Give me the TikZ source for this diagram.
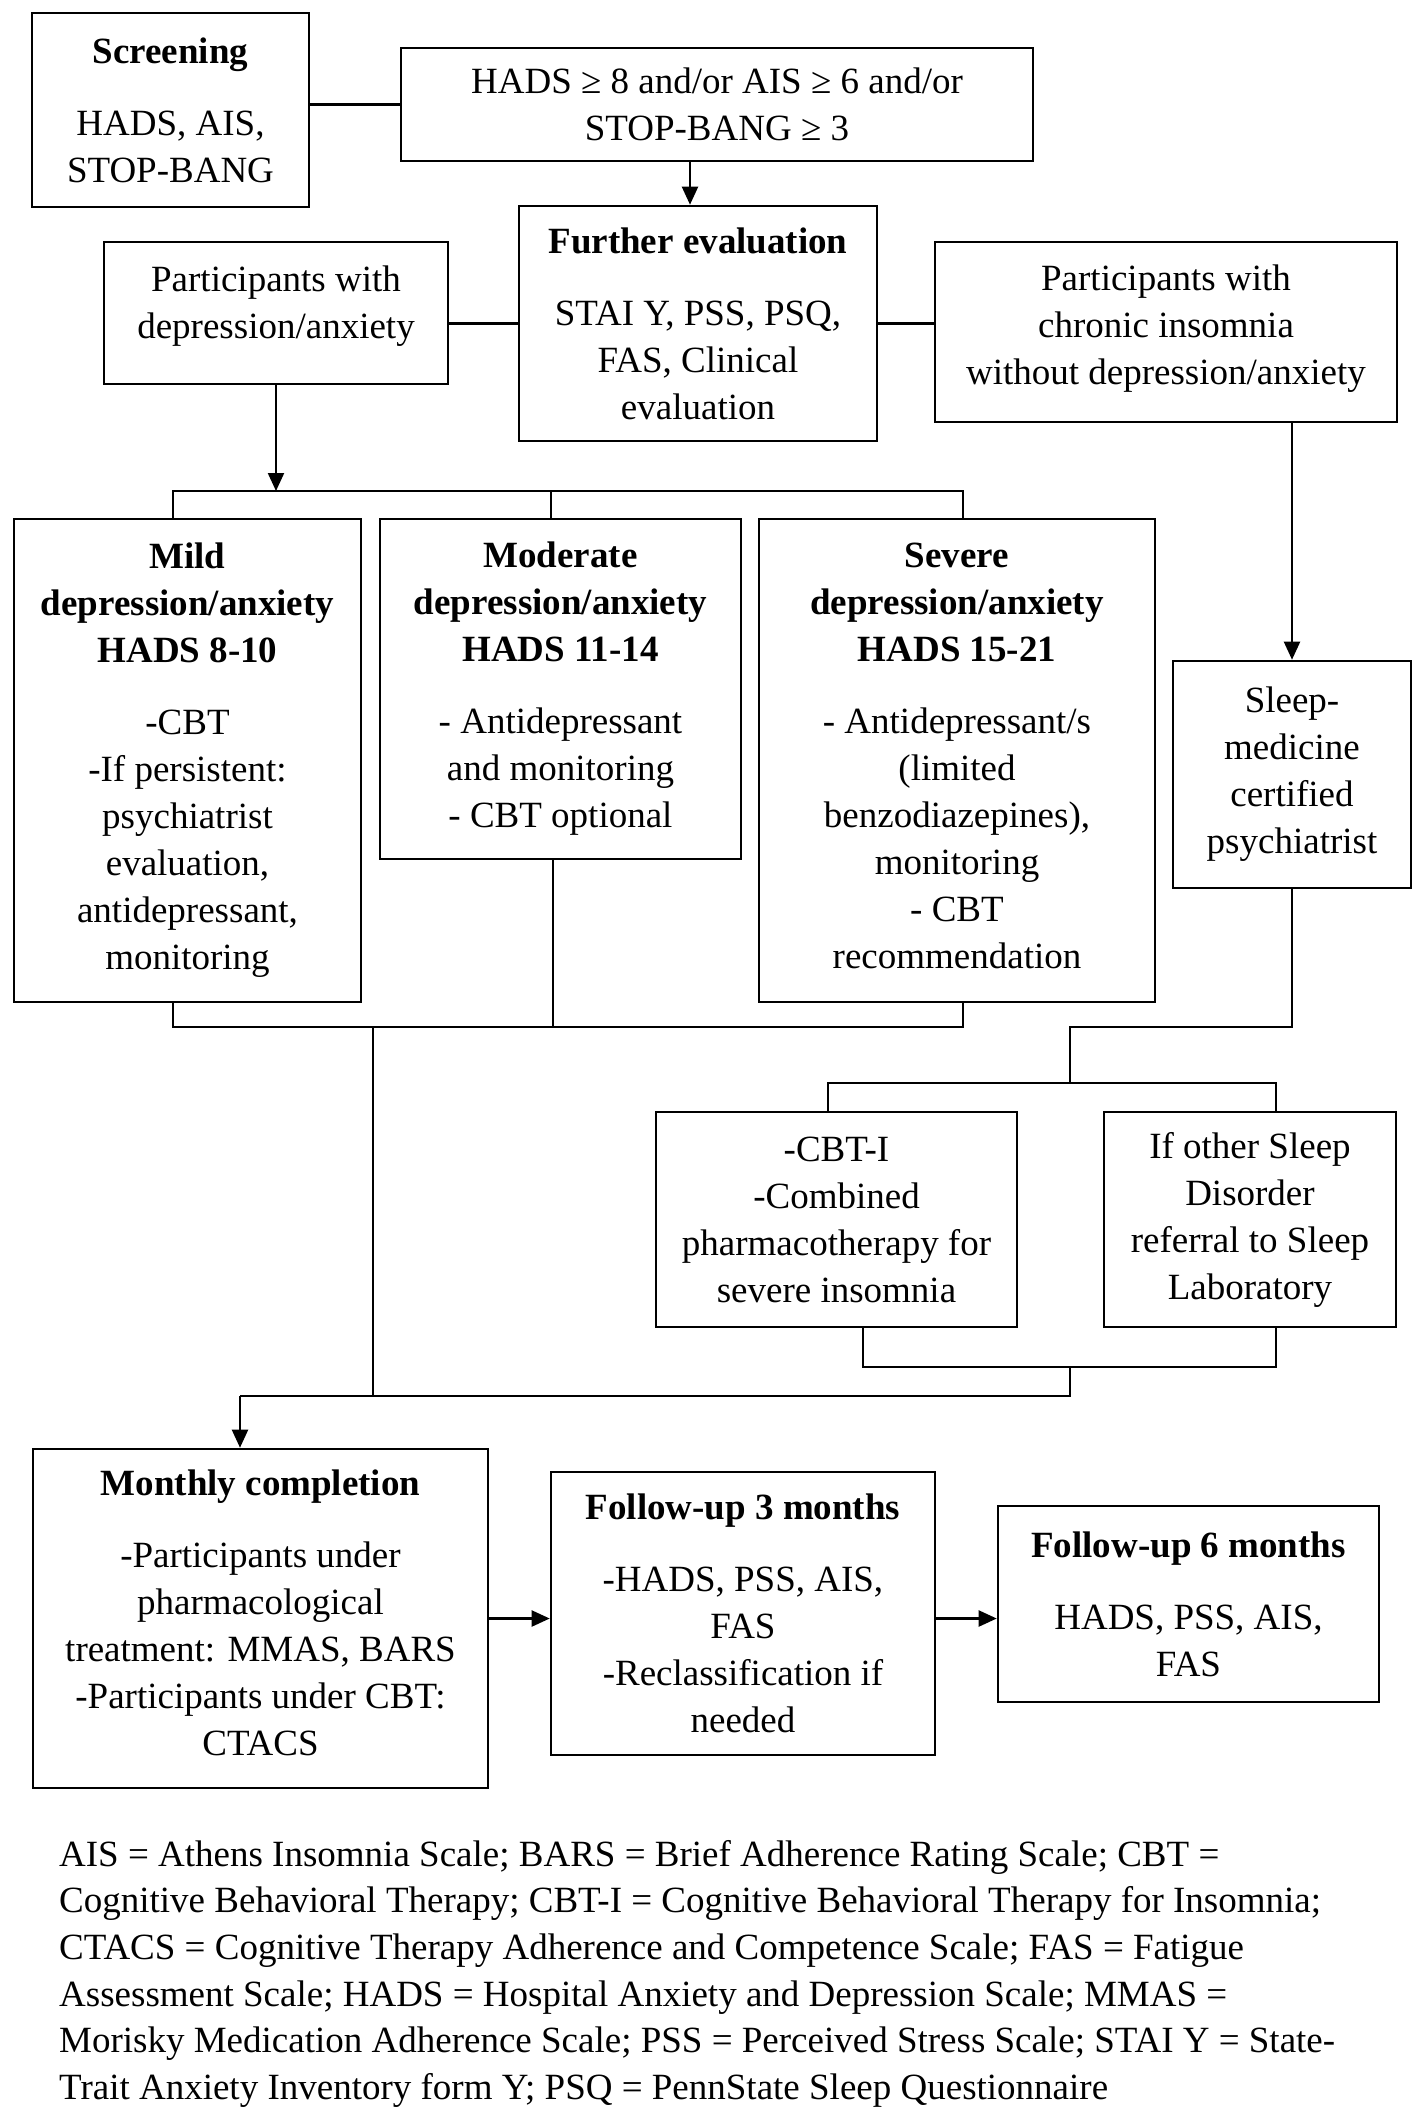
\documentclass[tikz,border=0pt]{standalone}
\usepackage{fontspec}
\setmainfont{Liberation Serif}
\usetikzlibrary{arrows.meta}
\begin{document}
\begin{tikzpicture}[x=1pt,y=-1pt,
  box/.style={draw, line width=2.6pt, align=center, inner sep=0pt,
    font=\fontsize{37}{47}\selectfont},
  conn/.style={line width=2.2pt},
  arr/.style={-{Triangle[length=18pt,width=16pt]}}]
\fill[white] (0,0) rectangle (1417,2123);
\useasboundingbox (0,0) rectangle (1417,2123);

% boxes
\node[box, minimum width=277pt, minimum height=194pt] (screen) at (170.5,110)
  {\textbf{Screening}\\[25pt] HADS, AIS,\\ STOP-BANG};
\node[box, minimum width=632pt, minimum height=113pt] (hads) at (717,104.5)
  {HADS ≥ 8 and/or AIS ≥ 6 and/or\\ STOP-BANG ≥ 3};
\node[box, minimum width=358pt, minimum height=235pt] (fe) at (698,323.5)
  {\textbf{Further evaluation}\\[25pt] STAI Y, PSS, PSQ,\\ FAS, Clinical\\ evaluation};
\node[box, minimum width=344pt, minimum height=142pt, text depth=22pt] (dep) at (276,313)
  {Participants with\\ depression/anxiety};
\node[box, minimum width=462pt, minimum height=180pt, text depth=15pt] (chron) at (1166,332)
  {Participants with\\ chronic insomnia\\ without depression/anxiety};
\node[box, minimum width=347pt, minimum height=483pt] (mild) at (187.5,760.5)
  {\textbf{Mild}\\ \textbf{depression/anxiety}\\ \textbf{HADS 8-10}\\[25pt]
   -CBT\\ -If persistent:\\ psychiatrist\\ evaluation,\\ antidepressant,\\ monitoring};
\node[box, minimum width=361pt, minimum height=340pt] (mod) at (560.5,689)
  {\textbf{Moderate}\\ \textbf{depression/anxiety}\\ \textbf{HADS 11-14}\\[25pt]
   - Antidepressant\\ and monitoring\\ - CBT optional};
\node[box, minimum width=396pt, minimum height=483pt, text depth=10pt] (sev) at (957,760.5)
  {\textbf{Severe}\\ \textbf{depression/anxiety}\\ \textbf{HADS 15-21}\\[25pt]
   - Antidepressant/s\\ (limited\\ benzodiazepines),\\ monitoring\\ - CBT\\ recommendation};
\node[box, minimum width=238pt, minimum height=227pt] (sleep) at (1292,774.5)
  {Sleep-\\ medicine\\ certified\\ psychiatrist};
\node[box, minimum width=361pt, minimum height=215pt] (cbti) at (836.5,1219.5)
  {-CBT-I\\ -Combined\\ pharmacotherapy for\\ severe insomnia};
\node[box, minimum width=292pt, minimum height=215pt] (other) at (1250,1219.5)
  {If other Sleep\\ Disorder\\ referral to Sleep\\ Laboratory};
\node[box, minimum width=455pt, minimum height=339pt, text depth=12pt] (month) at (260.5,1618.5)
  {\textbf{Monthly completion}\\[25pt] -Participants under\\ pharmacological\\
   treatment: MMAS, BARS\\ -Participants under CBT:\\ CTACS};
\node[box, minimum width=384pt, minimum height=283pt] (fu3) at (743,1613.5)
  {\textbf{Follow-up 3 months}\\[25pt] -HADS, PSS, AIS,\\ FAS\\ -Reclassification if\\ needed};
\node[box, minimum width=381pt, minimum height=196pt] (fu6) at (1188.5,1604)
  {\textbf{Follow-up 6 months}\\[25pt] HADS, PSS, AIS,\\ FAS};

% footnote
\node[anchor=north west, align=left, inner sep=0pt,
  font=\fontsize{37}{46.6}\selectfont] (note) at (59,1840)
  {AIS = Athens Insomnia Scale; BARS = Brief Adherence Rating Scale; CBT =\\
   Cognitive Behavioral Therapy; CBT-I = Cognitive Behavioral Therapy for Insomnia;\\
   CTACS = Cognitive Therapy Adherence and Competence Scale; FAS = Fatigue\\
   Assessment Scale; HADS = Hospital Anxiety and Depression Scale; MMAS =\\
   Morisky Medication Adherence Scale; PSS = Perceived Stress Scale; STAI Y = State-\\
   Trait Anxiety Inventory form Y; PSQ = PennState Sleep Questionnaire};

% junction coordinates
\coordinate (tbL) at (173,491);
\coordinate (tbM) at (551,491);
\coordinate (tbR) at (963,491);
\coordinate (bbL) at (173,1027);
\coordinate (bbM) at (553,1027);
\coordinate (bbR) at (963,1027);
\coordinate (bbD) at (373,1027);
\coordinate (jn) at (373,1396);
\coordinate (sl2) at (1070,1027);
\coordinate (sl3) at (1070,1083);
\coordinate (b2L) at (828,1083);
\coordinate (b2R) at (1276,1083);
\coordinate (b3L) at (863,1367);
\coordinate (b3R) at (1276,1367);
\coordinate (b3M) at (1070,1367);
\coordinate (b4R) at (1070,1396);
\coordinate (b4L) at (240,1396);

% connectors
\draw[conn] (hads.west) -- (hads.west -| screen.east);
\draw[conn,arr] ([xshift=-8pt]fe.north |- hads.south) -- ([xshift=-8pt]fe.north);
\draw[conn] (fe.west) -- (fe.west -| dep.east);
\draw[conn] (fe.east) -- (fe.east -| chron.west);
\draw[conn,arr] (dep.south) -- (dep.south |- tbL);
\draw[conn] (tbL |- mild.north) -- (tbL) -- (tbR) -- (tbR |- sev.north);
\draw[conn] (tbM) -- (tbM |- mod.north);
\draw[conn,arr] (sleep.north |- chron.south) -- (sleep.north);
\draw[conn] (bbL |- mild.south) -- (bbL) -- (bbR) -- (bbR |- sev.south);
\draw[conn] (bbM |- mod.south) -- (bbM);
\draw[conn] (bbD) -- (jn);
\draw[conn] (sleep.south) -- (sleep.south |- bbL) -- (sl2) -- (sl3);
\draw[conn] (b2L |- cbti.north) -- (b2L) -- (b2R) -- (b2R |- other.north);
\draw[conn] (b3L |- cbti.south) -- (b3L) -- (b3R) -- (b3R |- other.south);
\draw[conn] (b3M) -- (b4R) -- (b4L);
\draw[conn,arr] (b4L) -- (b4L |- month.north);
\draw[conn,arr] (month.east) -- (month.east -| fu3.west);
\draw[conn,arr] (fu3.east |- month.east) -- (fu6.west |- month.east);
\end{tikzpicture}
\end{document}
